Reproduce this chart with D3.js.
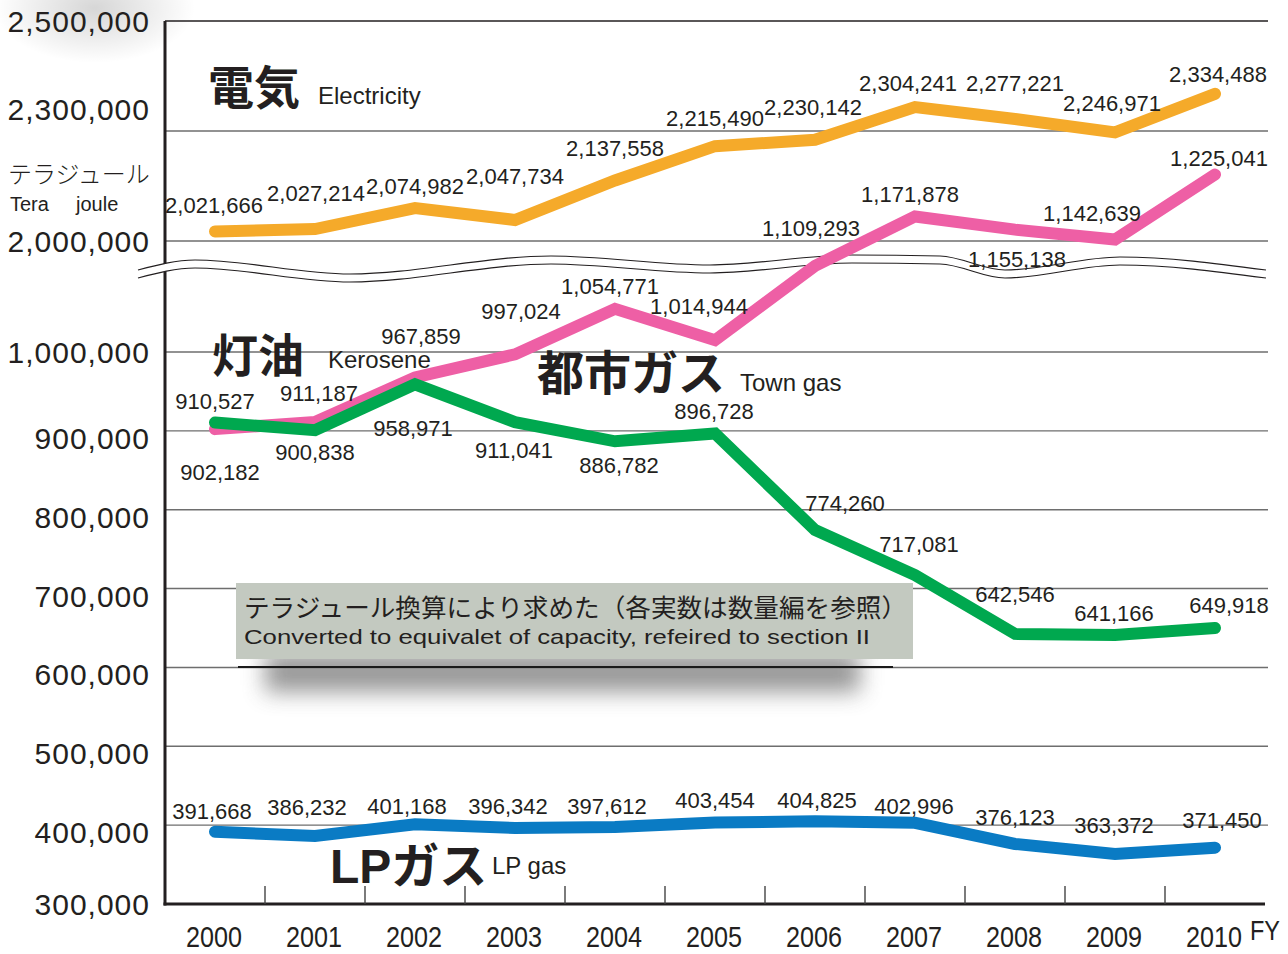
<!DOCTYPE html>
<html><head><meta charset="utf-8">
<script src="https://cdn.jsdelivr.net/npm/d3@7"></script>
<style>
html,body{margin:0;padding:0;background:#fff;}
svg{display:block;}
text{font-family:"Liberation Sans","Noto Sans CJK JP",sans-serif;fill:#231f20;}
</style></head><body>
<svg id="chart" width="1288" height="954"></svg>
<script>
// ---------- data ----------
const years = ['2000','2001','2002','2003','2004','2005','2006','2007','2008','2009','2010'];
const electricity = [2021666, 2027214, 2074982, 2047734, 2137558, 2215490, 2230142, 2304241, 2277221, 2246971, 2334488];
const kerosene    = [902182, 911187, 967859, 997024, 1054771, 1014944, 1109293, 1171878, 1155138, 1142639, 1225041];
const townGas     = [910527, 900838, 958971, 911041, 886782, 896728, 774260, 717081, 642546, 641166, 649918];
const lpGas       = [391668, 386232, 401168, 396342, 397612, 403454, 404825, 402996, 376123, 363372, 371450];
const upperTicks = [2500000, 2300000, 2000000];
const upperGrid  = [2250000, 2000000];
const lowerTicks = [1000000, 900000, 800000, 700000, 600000, 500000, 400000, 300000];
const lowerGrid  = [1000000, 900000, 800000, 700000, 600000, 500000, 400000];

// ---------- layout ----------
const L = 165, R = 1265, GRID_R = 1268, TOP = 21, BOTTOM = 904;
const svg = d3.select('#chart');
const fmt = d3.format(',');

const x = d3.scaleBand().domain(years).range([L, R]);
const cx = d => x(d) + x.bandwidth() / 2;
const yU = d3.scaleLinear().domain([2000000, 2500000]).range([241, 21]);
const yL = d3.scaleLinear().domain([300000, 1000000]).range([904, 352]);

// label offsets (dx, dy of baseline relative to point)
const elecOff = [[-1,-18],[1,-28],[0,-14],[0,-36],[0,-24],[0,-20],[-2,-25],[-7,-16],[0,-28],[-3,-21],[3,-12]];
const keroOff = [[5,51],[4,-21],[6,-33],[6,-35],[-5,-15],[-16,-26],[-4,-30],[-5,-14],[2,37],[-23,-19],[4,-9]];
const townOff = [[0,-14],[0,30],[-2,52],[-1,36],[4,32],[-1,-14],[30,-19],[4,-23],[0,-32],[-1,-14],[14,-15]];
const lpOff   = [[-3,-13],[-8,-21],[-8,-10],[-7,-14],[-8,-13],[0,-14],[2,-13],[-1,-9],[0,-19],[-1,-21],[7,-20]];

// ---------- defs ----------
const defs = svg.append('defs');
const rg = defs.append('radialGradient').attr('id','blob');
rg.append('stop').attr('offset','0%').attr('stop-color','#000').attr('stop-opacity',0.16);
rg.append('stop').attr('offset','100%').attr('stop-color','#000').attr('stop-opacity',0);
defs.append('filter').attr('id','blur').attr('x','-20%').attr('y','-100%').attr('width','140%').attr('height','300%')
  .append('feGaussianBlur').attr('stdDeviation', 11);

// top-left soft shadow
svg.append('ellipse').attr('cx',95).attr('cy',8).attr('rx',100).attr('ry',55).attr('fill','url(#blob)');

// ---------- gridlines ----------
const gridG = svg.append('g').attr('stroke','#6e6e6e').attr('stroke-width',1.4);
gridG.selectAll('line.u').data(upperGrid).join('line').attr('class','u')
  .attr('x1',L).attr('x2',GRID_R).attr('y1',d=>yU(d)).attr('y2',d=>yU(d));
gridG.selectAll('line.l').data(lowerGrid).join('line').attr('class','l')
  .attr('x1',L).attr('x2',GRID_R).attr('y1',d=>yL(d)).attr('y2',d=>yL(d));

// ---------- note box with shadow ----------
svg.append('rect').attr('x',265).attr('y',652).attr('width',595).attr('height',40)
  .attr('fill','#555').attr('opacity',0.6).attr('filter','url(#blur)');
svg.append('line').attr('x1',238).attr('x2',893).attr('y1',667).attr('y2',667).attr('stroke','#1a1a1a').attr('stroke-width',2);
svg.append('rect').attr('x',236).attr('y',583).attr('width',677).attr('height',76).attr('fill','#c3c9c0');
svg.append('text').attr('x',244).attr('y',617).attr('font-size',25)
  .attr('textLength',663).attr('lengthAdjust','spacingAndGlyphs')
  .text('テラジュール換算により求めた（各実数は数量編を参照）');
svg.append('text').attr('x',244).attr('y',644).attr('font-size',21)
  .attr('textLength',626).attr('lengthAdjust','spacingAndGlyphs')
  .text('Converted to equivalet of capacity, refeired to section II');

// ---------- axes ----------
svg.append('line').attr('x1',L).attr('x2',GRID_R).attr('y1',TOP).attr('y2',TOP).attr('stroke','#231f20').attr('stroke-width',1.5);
svg.append('line').attr('x1',L).attr('x2',L).attr('y1',TOP).attr('y2',BOTTOM+1.5).attr('stroke','#231f20').attr('stroke-width',3);
svg.append('line').attr('x1',L-1.5).attr('x2',R).attr('y1',BOTTOM).attr('y2',BOTTOM).attr('stroke','#231f20').attr('stroke-width',3);
svg.append('g').selectAll('line').data(years.slice(1)).join('line')
  .attr('x1',d=>x(d)).attr('x2',d=>x(d)).attr('y1',BOTTOM-18).attr('y2',BOTTOM)
  .attr('stroke','#444').attr('stroke-width',1.4);

// x labels
svg.append('g').selectAll('text').data(years).join('text')
  .attr('x',d=>cx(d)-1).attr('y',947).attr('text-anchor','middle').attr('font-size',30)
  .attr('textLength',56).attr('lengthAdjust','spacingAndGlyphs').text(d=>d);
svg.append('text').attr('x',1250).attr('y',940).attr('font-size',28)
  .attr('textLength',30).attr('lengthAdjust','spacingAndGlyphs').text('FY');

// y labels
svg.append('g').selectAll('text').data(upperTicks).join('text')
  .attr('x',150).attr('y',d=>yU(d)+11).attr('text-anchor','end').attr('font-size',30)
  .attr('letter-spacing',1).text(d=>fmt(d));
svg.append('g').selectAll('text').data(lowerTicks).join('text')
  .attr('x',150).attr('y',d=>yL(d)+((d===1000000||d===300000)?11:18)).attr('text-anchor','end').attr('font-size',30)
  .attr('letter-spacing',1).text(d=>fmt(d));

// unit
svg.append('text').attr('x',8).attr('y',183).attr('font-size',24).attr('font-weight',300).text('テラジュール');
svg.append('text').attr('x',10).attr('y',211).attr('font-size',20).text('Tera');
svg.append('text').attr('x',76).attr('y',211).attr('font-size',20).text('joule');

// ---------- axis break ----------
const wave = [[138,270],[195,260],[350,274],[551,256],[710,265],[852,255],[940,256],[1005,270],[1120,257],[1266,270]];
const gap = 8;
const breakG = svg.append('g');
breakG.append('path').datum(wave)
  .attr('d', d3.area().x(d=>d[0]).y0(d=>d[1]).y1(d=>d[1]+gap).curve(d3.curveMonotoneX))
  .attr('fill','#fff');
[0, gap].forEach(off => {
  breakG.append('path').datum(wave)
    .attr('d', d3.line().x(d=>d[0]).y(d=>d[1]+off).curve(d3.curveMonotoneX))
    .attr('fill','none').attr('stroke','#231f20').attr('stroke-width',1.2);
});

// ---------- series ----------
const series = [
  {vals: electricity, y: yU, color:'#f5aa2a', off: elecOff},
  {vals: kerosene,    y: yL, color:'#ee5fa5', off: keroOff},
  {vals: townGas,     y: yL, color:'#00a84f', off: townOff},
  {vals: lpGas,       y: yL, color:'#0a7bc4', off: lpOff}
];
series.forEach(s => {
  const pts = years.map((yr,i) => [cx(yr), s.y(s.vals[i])]);
  svg.append('path').datum(pts)
    .attr('d', d3.line())
    .attr('fill','none').attr('stroke', s.color).attr('stroke-width',12)
    .attr('stroke-linecap','round').attr('stroke-linejoin','miter');
});
series.forEach(s => {
  svg.append('g').selectAll('text').data(s.vals).join('text')
    .attr('x',(d,i)=>cx(years[i]) + s.off[i][0])
    .attr('y',(d,i)=>s.y(d) + s.off[i][1])
    .attr('text-anchor','middle').attr('font-size',22).text(d=>fmt(d));
});

// ---------- series titles ----------
const titles = [
  {jp:'電気', en:'Electricity', x:208, y:104, ex:318, ey:104, fs:46},
  {jp:'灯油', en:'Kerosene', x:212, y:372, ex:328, ey:368, fs:46},
  {jp:'都市ガス', en:'Town gas', x:537, y:390, ex:740, ey:391, fs:47},
  {jp:'LPガス', en:'LP gas', x:330, y:883, ex:492, ey:874, fs:48}
];
titles.forEach(t => {
  svg.append('text').attr('x',t.x).attr('y',t.y).attr('font-size',t.fs).attr('font-weight','bold').text(t.jp);
  svg.append('text').attr('x',t.ex).attr('y',t.ey).attr('font-size',24).text(t.en);
});
</script>
</body></html>
